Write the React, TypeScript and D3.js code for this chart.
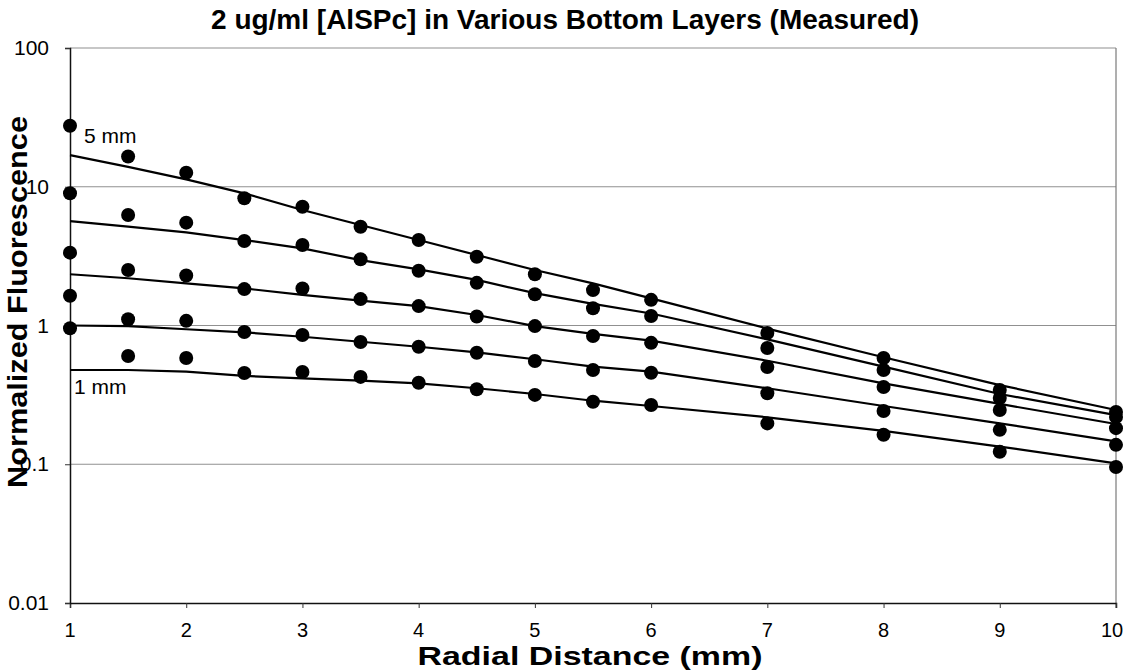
import React, { useEffect, useRef } from "react";
import * as d3 from "d3";

// radial positions where fluorescence was measured (mm)
const radialX = [1, 1.5, 2, 2.5, 3, 3.5, 4, 4.5, 5, 5.5, 6, 7, 8, 9, 10];

// measured points, one list per bottom layer thickness
const measured5mm = [27.5, 16.5, 12.6, 8.26, 7.18, 5.15, 4.13, 3.13, 2.34, 1.8, 1.53, 0.883, 0.583, 0.343, 0.238];
const measured4mm = [8.97, 6.26, 5.51, 4.06, 3.8, 3.0, 2.48, 2.03, 1.68, 1.33, 1.17, 0.689, 0.478, 0.3, 0.219];
const measured3mm = [3.35, 2.51, 2.29, 1.83, 1.85, 1.55, 1.38, 1.16, 0.99, 0.84, 0.75, 0.502, 0.36, 0.246, 0.182];
const measured2mm = [1.64, 1.11, 1.08, 0.898, 0.854, 0.76, 0.703, 0.637, 0.555, 0.478, 0.457, 0.325, 0.242, 0.177, 0.138];
const measured1mm = [0.955, 0.603, 0.583, 0.455, 0.462, 0.426, 0.387, 0.347, 0.316, 0.282, 0.267, 0.197, 0.163, 0.123, 0.0955];

// model curves drawn as lines
const model5mm = [16.9, 13.9, 11.3, 8.96, 6.8, 5.3, 4.13, 3.22, 2.51, 2.01, 1.57, 0.95, 0.59, 0.372, 0.246];
const model4mm = [5.66, 5.16, 4.69, 4.13, 3.6, 2.96, 2.54, 2.13, 1.71, 1.43, 1.22, 0.795, 0.505, 0.321, 0.226];
const model3mm = [2.34, 2.19, 2.01, 1.85, 1.66, 1.51, 1.38, 1.19, 0.99, 0.87, 0.777, 0.557, 0.383, 0.272, 0.195];
const model2mm = [1.0, 0.99, 0.94, 0.893, 0.83, 0.764, 0.703, 0.641, 0.571, 0.505, 0.465, 0.353, 0.263, 0.197, 0.146];
const model1mm = [0.478, 0.478, 0.465, 0.433, 0.416, 0.4, 0.383, 0.353, 0.321, 0.287, 0.263, 0.218, 0.174, 0.134, 0.1016];

const measuredAll = [measured5mm, measured4mm, measured3mm, measured2mm, measured1mm];
const modelAll = [model5mm, model4mm, model3mm, model2mm, model1mm];

const xTicks = [1, 2, 3, 4, 5, 6, 7, 8, 9, 10];
const yTicks = [0.01, 0.1, 1, 10, 100];
const yTickLabels = ["0.01", "0.1", "1", "10", "100"];

const titleText = "2 ug/ml [AlSPc] in Various Bottom Layers (Measured)";
const xTitle = "Radial Distance (mm)";
const yTitle = "Normalized Fluorescence";

export default function App() {
  const ref = useRef<SVGSVGElement>(null);

  useEffect(() => {
    const width = 1141;
    const height = 670;
    const left = 70, right = 1116, top = 48, bottom = 603;
    const font = "'Liberation Sans', Arial, sans-serif";

    const svg = d3.select(ref.current);
    svg.selectAll("*").remove();

    svg.append("rect").attr("width", width).attr("height", height).attr("fill", "#fff");

    const x = d3.scaleLinear().domain([1, 10]).range([left, right]);
    const y = d3.scaleLog().domain([0.01, 100]).range([bottom, top]);

    // gridlines
    svg.append("g")
      .selectAll("line")
      .data(yTicks.filter((t) => t > 0.01))
      .enter()
      .append("line")
      .attr("x1", left)
      .attr("x2", right)
      .attr("y1", (d) => y(d))
      .attr("y2", (d) => y(d))
      .attr("stroke", "#909090")
      .attr("stroke-width", 1.2);

    // right border
    svg.append("line")
      .attr("x1", right).attr("x2", right)
      .attr("y1", top).attr("y2", bottom + 5)
      .attr("stroke", "#7a7a7a")
      .attr("stroke-width", 1.2);

    // axes
    const xAxis = svg.append("g")
      .attr("transform", `translate(0,${bottom})`)
      .call(d3.axisBottom(x).tickValues(xTicks).tickSize(5).tickFormat(() => ""));
    xAxis.select(".domain").attr("stroke", "#111").attr("stroke-width", 1.5);
    xAxis.selectAll(".tick line").attr("stroke", "#333");

    const yAxis = svg.append("g")
      .attr("transform", `translate(${left},0)`)
      .call(d3.axisLeft(y).tickValues(yTicks).tickSize(5).tickFormat(() => ""));
    yAxis.select(".domain").attr("stroke", "#111").attr("stroke-width", 1.5);
    yAxis.selectAll(".tick line").attr("stroke", "#333");

    // tick labels
    svg.append("g")
      .selectAll("text")
      .data(xTicks)
      .enter()
      .append("text")
      .attr("x", (d) => x(d) - (d === 10 ? 4 : 0))
      .attr("y", 637)
      .attr("text-anchor", "middle")
      .attr("font-family", font)
      .attr("font-size", 20)
      .text((d) => d);

    svg.append("g")
      .selectAll("text")
      .data(yTicks)
      .enter()
      .append("text")
      .attr("x", 49)
      .attr("y", (d) => y(d) + 7)
      .attr("text-anchor", "end")
      .attr("font-family", font)
      .attr("font-size", 21)
      .text((d, i) => yTickLabels[i]);

    // model lines
    const line = d3.line<number>()
      .x((d, i) => x(radialX[i]))
      .y((d) => y(d));

    svg.append("g")
      .selectAll("path")
      .data(modelAll)
      .enter()
      .append("path")
      .attr("d", (d) => line(d))
      .attr("fill", "none")
      .attr("stroke", "#000")
      .attr("stroke-width", 2.2);

    // measured points
    measuredAll.forEach((series) => {
      svg.append("g")
        .selectAll("circle")
        .data(series)
        .enter()
        .append("circle")
        .attr("cx", (d, i) => x(radialX[i]))
        .attr("cy", (d) => y(d))
        .attr("r", 7)
        .attr("fill", "#000");
    });

    // series labels
    svg.append("text")
      .attr("x", 84).attr("y", 143)
      .attr("font-family", font).attr("font-size", 21)
      .text("5 mm");
    svg.append("text")
      .attr("x", 74).attr("y", 394)
      .attr("font-family", font).attr("font-size", 21)
      .text("1 mm");

    // titles
    svg.append("text")
      .attr("x", 565).attr("y", 29)
      .attr("text-anchor", "middle")
      .attr("font-family", font).attr("font-size", 28).attr("font-weight", "bold")
      .text(titleText);

    svg.append("text")
      .attr("x", 590).attr("y", 664.5)
      .attr("text-anchor", "middle")
      .attr("font-family", font).attr("font-size", 25).attr("font-weight", "bold")
      .attr("textLength", 345)
      .attr("lengthAdjust", "spacingAndGlyphs")
      .text(xTitle);

    svg.append("text")
      .attr("transform", "translate(27,302) rotate(-90)")
      .attr("text-anchor", "middle")
      .attr("font-family", font).attr("font-size", 27).attr("font-weight", "bold")
      .attr("textLength", 372)
      .attr("lengthAdjust", "spacingAndGlyphs")
      .text(yTitle);
  }, []);

  return (
    <svg
      ref={ref}
      width={1141}
      height={670}
      style={{ position: "absolute", left: 0, top: 0, display: "block" }}
    />
  );
}
